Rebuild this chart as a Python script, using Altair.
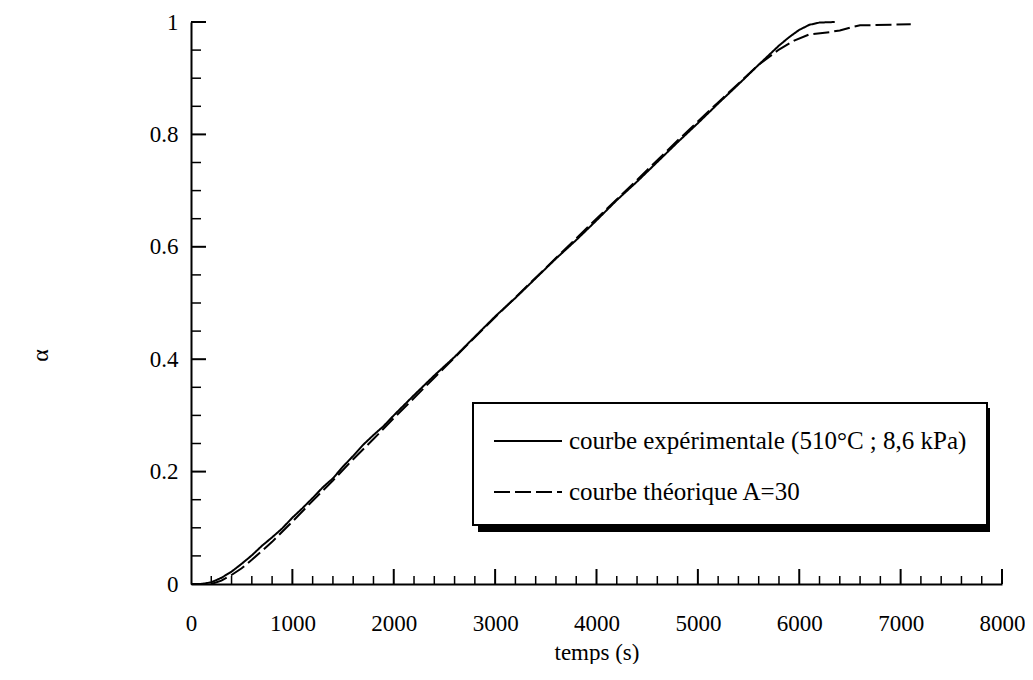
import altair as alt
import pandas as pd

# experimental curve (solid)
t_exp = [0, 100, 200, 300, 400, 500, 600, 700, 800, 900, 1000, 1100, 1200, 1300, 1400,
         1500, 1600, 1700, 1800, 1900, 2000, 2200, 2400, 2600, 2800, 3000, 3200, 3400,
         3600, 3800, 4000, 4200, 4400, 4600, 4800, 5000, 5200, 5400, 5600, 5800, 5900,
         6000, 6100, 6200, 6350]
a_exp = [0.0, 0.0, 0.003, 0.011, 0.022, 0.036, 0.051, 0.068, 0.083, 0.099, 0.118, 0.135,
         0.153, 0.172, 0.188, 0.209, 0.228, 0.248, 0.265, 0.281, 0.300, 0.336, 0.371,
         0.404, 0.440, 0.476, 0.509, 0.544, 0.579, 0.612, 0.647, 0.683, 0.716, 0.751,
         0.786, 0.820, 0.855, 0.889, 0.924, 0.958, 0.973, 0.986, 0.995, 0.999, 1.0]

# theoretical curve (dashed)
t_th = [0, 200, 300, 400, 500, 600, 800, 1000, 1200, 1400, 1600, 1800, 2000, 2400, 2800,
        3200, 3600, 4000, 4400, 4800, 5200, 5600, 5800, 5950, 6100, 6300, 6400, 6500,
        6600, 7100]
a_th = [0.0, 0.0, 0.006, 0.016, 0.028, 0.043, 0.075, 0.111, 0.148, 0.184, 0.222, 0.258,
        0.295, 0.367, 0.439, 0.510, 0.580, 0.650, 0.719, 0.789, 0.857, 0.924, 0.951,
        0.967, 0.978, 0.982, 0.985, 0.990, 0.994, 0.996]

lab_exp = "courbe expérimentale (510°C ; 8,6 kPa)"
lab_th = "courbe théorique A=30"

x_labels = [0, 1000, 2000, 3000, 4000, 5000, 6000, 7000, 8000]
y_labels = [0, 0.2, 0.4, 0.6, 0.8, 1]
x_minor = [v for v in range(200, 8001, 200) if v % 1000 != 0]
x_major = [v for v in range(1000, 8001, 1000)]
y_minor = [round(v * 0.05, 2) for v in range(1, 21) if v % 4 != 0]
y_major = [0.2, 0.4, 0.6, 0.8, 1.0]

df = pd.concat([
    pd.DataFrame({"t": t_exp, "a": a_exp, "s": lab_exp, "o": range(len(t_exp))}),
    pd.DataFrame({"t": t_th, "a": a_th, "s": lab_th, "o": range(len(t_th))}),
])

W, H = 811, 562
FONT = "Liberation Serif"
FS = 23

xs = alt.Scale(domain=[0, 8000], nice=False, zero=False)
ys = alt.Scale(domain=[0, 1], nice=False, zero=False)

lines = alt.Chart(df).mark_line(color="black", strokeWidth=2).encode(
    x=alt.X("t:Q", scale=xs,
            axis=alt.Axis(values=x_labels, format="d", title="temps (s)", grid=False,
                          ticks=False, domainWidth=2, domainColor="black",
                          labelFont=FONT, labelFontSize=FS, labelColor="black",
                          labelPadding=28, labelFlush=False,
                          titleFont=FONT, titleFontSize=FS, titleFontWeight="normal",
                          titleColor="black", titlePadding=6)),
    y=alt.Y("a:Q", scale=ys,
            axis=alt.Axis(values=y_labels, format="~g", title="α", grid=False, ticks=False,
                          domainWidth=2, domainColor="black",
                          labelFont=FONT, labelFontSize=FS, labelColor="black",
                          labelPadding=13, labelFlush=False,
                          titleFont=FONT, titleFontSize=24, titleFontWeight="normal",
                          titleColor="black", titleX=-151, titleY=333,
                          titleBaseline="middle")),
    strokeDash=alt.StrokeDash(
        "s:N",
        scale=alt.Scale(domain=[lab_exp, lab_th], range=[[1, 0], [16, 5]]),
        legend=alt.Legend(title=None, orient="none", legendX=282, legendY=381,
                          direction="vertical", labelFont=FONT, labelFontSize=25,
                          labelColor="black", symbolType="M-1,0H3", symbolSize=1156,
                          symbolStrokeWidth=2, symbolStrokeColor="black",
                          strokeColor="black", fillColor="white", padding=20,
                          rowPadding=20, labelOffset=40, labelLimit=700)),
    order="o:Q",
)

tick_minor_x = alt.Chart(pd.DataFrame({"t": x_minor})).mark_rule(color="black", strokeWidth=1.5).encode(
    x=alt.X("t:Q", scale=xs), y=alt.value(H), y2=alt.value(H - 8))
tick_major_x = alt.Chart(pd.DataFrame({"t": x_major})).mark_rule(color="black", strokeWidth=2).encode(
    x=alt.X("t:Q", scale=xs), y=alt.value(H), y2=alt.value(H - 15))
tick_minor_y = alt.Chart(pd.DataFrame({"a": y_minor})).mark_rule(color="black", strokeWidth=1.5).encode(
    y=alt.Y("a:Q", scale=ys), x=alt.value(0), x2=alt.value(10))
tick_major_y = alt.Chart(pd.DataFrame({"a": y_major})).mark_rule(color="black", strokeWidth=2).encode(
    y=alt.Y("a:Q", scale=ys), x=alt.value(0), x2=alt.value(15))

shadow = alt.Chart(pd.DataFrame({"k": [0]})).mark_rect(color="black").encode(
    x=alt.value(287), x2=alt.value(799), y=alt.value(386), y2=alt.value(510))

chart = alt.layer(shadow, tick_minor_x, tick_major_x, tick_minor_y, tick_major_y, lines).properties(
    width=W, height=H,
    autosize=alt.AutoSizeParams(type="none"),
    padding={"left": 183, "top": 14, "right": 23, "bottom": 80},
).configure_view(stroke=None).configure_legend(strokeWidth=2)

chart.save("out.html", embed_options={"renderer": "svg", "actions": False})
